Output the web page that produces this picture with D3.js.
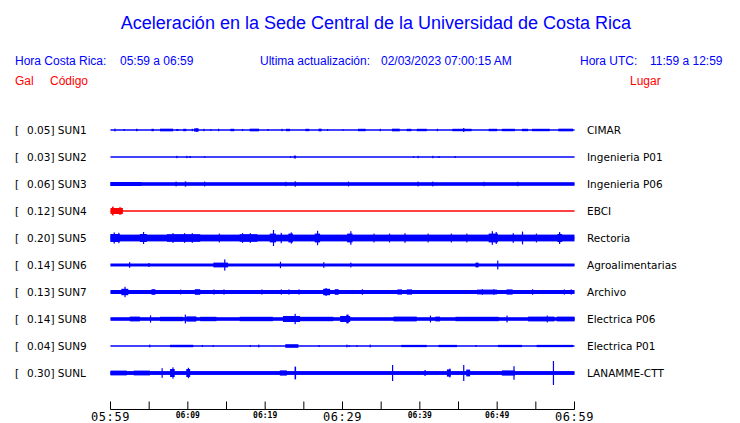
<!DOCTYPE html>
<html>
<head>
<meta charset="utf-8">
<script src="https://cdn.jsdelivr.net/npm/d3@7"></script>
<style>
  body { margin: 0; background: #fff; }
  svg { display: block; }
  .hdr { font-family: "Liberation Sans", Arial, sans-serif; font-size: 12px; }
  .lbl { font-family: "DejaVu Sans", sans-serif; font-size: 10.5px; fill: #000; }
</style>
</head>
<body>
<svg id="chart" width="740" height="423"></svg>
<script>
// station info
var stations = ["SUN1", "SUN2", "SUN3", "SUN4", "SUN5", "SUN6", "SUN7", "SUN8", "SUN9", "SUNL"];
var peakGal = [0.05, 0.03, 0.06, 0.12, 0.20, 0.14, 0.13, 0.14, 0.04, 0.30];
var places = ["CIMAR", "Ingenieria P01", "Ingenieria P06", "EBCI", "Rectoria",
              "Agroalimentarias", "Archivo", "Electrica P06", "Electrica P01", "LANAMME-CTT"];
var traceColor = ["blue", "blue", "blue", "red", "blue", "blue", "blue", "blue", "blue", "blue"];

// background noise half-amplitude (Gal) per station
var baseGal = [0.012, 0.012, 0.045, 0.012, 0.085, 0.037, 0.05, 0.045, 0.012, 0.048];

// bursts: [start minute, end minute, half-amplitude Gal], minutes after 05:59
var bursts = [
  [[0.5,0.5,0.035],[1.7,1.7,0.025],[3.3,3.5,0.03],[5.3,5.6,0.03],[6.4,8.1,0.033],[8.5,8.8,0.025],
   [9.4,9.8,0.03],[10.5,10.5,0.03],[10.8,11.4,0.04],[11.1,11.1,0.05],[12,12,0.03],[12.9,12.9,0.025],
   [13.9,13.9,0.03],[15.5,16,0.03],[17,17,0.025],[18,19.2,0.033],[20.3,20.3,0.025],[22.1,22.1,0.03],
   [22.7,23.2,0.03],[25.2,25.7,0.03],[26.9,27.3,0.033],[28,28,0.025],[30,30,0.02],[32,33,0.03],
   [34.8,34.8,0.03],[36.4,37.4,0.033],[38.3,38.9,0.03],[39.6,40.9,0.03],[42.2,42.2,0.03],
   [44.2,46.7,0.03],[45.6,45.6,0.05],[48.9,50,0.03],[50.6,52.3,0.03],[53.2,54,0.03],[54.5,56.8,0.03],
   [57.9,59.8,0.033]],
  [[8.5,8.6,0.03],[9.8,9.9,0.03],[10.2,10.4,0.025],[12.1,12.1,0.02],[23.2,23.2,0.02],[23.7,24,0.035],
   [39.1,39.1,0.02],[39.7,39.7,0.03],[41.6,41.6,0.03],[42.4,42.4,0.025],[44.5,44.5,0.025]],
  [[0,4,0.05],[8.4,8.4,0.06],[9.6,9.8,0.065],[12.1,12.1,0.06],[22.6,22.6,0.055],[23.8,24,0.065],
   [30.7,30.7,0.06],[39.7,39.7,0.06],[41.6,41.6,0.06],[48.2,48.2,0.055],[52.6,52.6,0.055]],
  [[0,1.6,0.075],[0.2,0.4,0.11],[1.1,1.4,0.09]],
  [[0,1.2,0.1],[0.4,0.4,0.14],[1,1,0.13],[3.8,4.7,0.1],[4.2,4.2,0.15],[8,8,0.12],[9.5,9.5,0.12],
   [10.5,10.5,0.12],[7.3,11.6,0.095],[14,14,0.11],[17,17,0.12],[18,18,0.12],[16.7,19,0.095],
   [20.6,21.4,0.11],[21,21,0.2],[22,22,0.13],[23,23.6,0.11],[23.3,23.3,0.14],[26.4,27.1,0.11],
   [26.7,26.7,0.18],[31,31,0.17],[30.6,31.3,0.11],[34,34,0.11],[36,36,0.11],[38,38,0.12],[41,41,0.11],
   [44,44,0.11],[46,46,0.11],[48.9,50.1,0.11],[49.3,49.3,0.17],[49.8,49.8,0.15],[52,52,0.12],
   [53.2,53.2,0.16],[55,55,0.11],[58,58,0.15],[57.8,58.4,0.1]],
  [[2.4,2.4,0.07],[4.9,4.9,0.05],[13.3,15.2,0.06],[14.7,14.8,0.14],[21.9,21.9,0.08],[27.5,27.5,0.07],
   [31,31,0.06],[47.2,47.6,0.06],[50,50,0.11]],
  [[1.4,2.3,0.08],[1.8,1.9,0.13],[5.3,5.8,0.07],[9,9,0.06],[10.9,11.6,0.07],[13.3,13.3,0.065],
   [14.6,14.6,0.065],[19.5,19.5,0.065],[22,22,0.065],[23,23,0.065],[24.3,24.3,0.065],[27.5,28.4,0.08],
   [27.8,27.9,0.1],[29,29.5,0.07],[32.5,32.5,0.07],[37.1,37.7,0.065],[38.3,39,0.065],[47.4,50,0.06],
   [48,48,0.07],[49.5,49.5,0.07],[51.2,52,0.065],[54.5,54.5,0.07],[58.6,58.6,0.065],[59.5,59.5,0.065]],
  [[2.5,3.8,0.06],[5.1,5.1,0.09],[6.4,9.4,0.055],[9.6,9.6,0.11],[9.8,11.1,0.065],[11.6,13.7,0.055],
   [16.7,21,0.055],[22.3,24.5,0.075],[23.8,23.9,0.13],[24.5,28.8,0.055],[29.7,31,0.075],[30.5,30.8,0.11],
   [36.6,39.6,0.06],[41.3,41.3,0.085],[42,42.6,0.06],[44.6,50.2,0.055],[51.2,51.2,0.085],
   [54,57.4,0.06],[56.4,56.4,0.085],[57.7,60,0.06]],
  [[5,5,0.035],[7.7,10.7,0.03],[11.8,11.8,0.025],[13.2,13.2,0.025],[18,18,0.025],[19.1,19.1,0.035],
   [22.6,24.3,0.045],[26.9,26.9,0.025],[30.5,30.5,0.035],[30.8,30.8,0.025],[31.8,31.8,0.025],
   [33.5,33.5,0.035],[37.6,40.9,0.028],[42.4,44.8,0.028],[47.2,47.2,0.025],[50.1,53.2,0.028],
   [55.1,59.8,0.028]],
  [[0,2.1,0.06],[3,5.1,0.06],[6.6,6.6,0.12],[7.7,8.3,0.1],[8,8,0.14],[9.8,10.3,0.1],[10,10,0.13],
   [21.9,22.8,0.065],[23.8,24,0.16],[36.4,36.4,0.2],[40.6,40.6,0.075],[43.5,44,0.09],[43.8,43.8,0.11],
   [45.6,45.6,0.2],[46,46.5,0.085],[50.6,52.3,0.065],[52.1,52.1,0.17],[57.2,57.2,0.3]]
];

// axis ticks (minutes after 05:59)
var tickMinutes = [0, 5, 10, 15, 20, 25, 30, 35, 40, 45, 50, 55, 60];
var bigLabels = {0: "05:59", 30: "06:29", 60: "06:59"};
var smallLabels = {10: "06:09", 20: "06:19", 40: "06:39", 50: "06:49"};

var svg = d3.select("#chart");

var x = d3.scaleLinear().domain([0, 60]).range([110.5, 574.5]);
var row = d3.scalePoint().domain(stations).range([130, 373]);
var amp = d3.scaleLinear().domain([0, 1]).range([0, 40]); // px per Gal

// title and header
svg.append("text")
    .attr("x", 376).attr("y", 28.5)
    .attr("text-anchor", "middle")
    .attr("fill", "blue")
    .style("font-family", "Liberation Sans, Arial, sans-serif")
    .style("font-size", "18px")
    .text("Aceleración en la Sede Central de la Universidad de Costa Rica");

var hdr = [
  [15, 65, "blue", "Hora Costa Rica:"],
  [120, 65, "blue", "05:59 a 06:59"],
  [260, 65, "blue", "Ultima actualización:"],
  [381, 65, "blue", "02/03/2023 07:00:15 AM"],
  [580, 65, "blue", "Hora UTC:"],
  [650, 65, "blue", "11:59 a 12:59"],
  [15, 85, "red", "Gal"],
  [50, 85, "red", "Código"],
  [630, 85, "red", "Lugar"]
];
svg.selectAll(".hdr").data(hdr).enter().append("text")
    .attr("class", "hdr")
    .attr("x", function(d) { return d[0]; })
    .attr("y", function(d) { return d[1]; })
    .attr("fill", function(d) { return d[2]; })
    .text(function(d) { return d[3]; });

// one group per trace
var tr = svg.selectAll(".trace")
    .data(stations)
    .enter().append("g")
    .attr("class", "trace")
    .attr("transform", function(d) { return "translate(0," + row(d) + ")"; });

tr.append("text").attr("class", "lbl")
    .attr("x", 15).attr("dy", "0.35em").text("[");
tr.append("text").attr("class", "lbl")
    .attr("x", 27).attr("dy", "0.35em")
    .text(function(d, i) { return peakGal[i].toFixed(2) + "] " + d; });
tr.append("text").attr("class", "lbl")
    .attr("x", 587).attr("dy", "0.35em")
    .text(function(d, i) { return places[i]; });

tr.append("line")
    .attr("x1", x(0)).attr("x2", x(60))
    .attr("stroke", function(d, i) { return traceColor[i]; })
    .attr("stroke-width", 1);

tr.append("rect")
    .attr("x", x(0))
    .attr("width", x(60) - x(0))
    .attr("y", function(d, i) { return -amp(baseGal[i]); })
    .attr("height", function(d, i) { return 2 * amp(baseGal[i]); })
    .attr("fill", function(d, i) { return traceColor[i]; });

tr.each(function(d, i) {
    d3.select(this).selectAll(".burst")
        .data(bursts[i])
        .enter().append("rect")
        .attr("class", "burst")
        .attr("x", function(b) { return x(b[0]); })
        .attr("width", function(b) { return Math.max(1.2, x(b[1]) - x(b[0])); })
        .attr("y", function(b) { return -amp(b[2]); })
        .attr("height", function(b) { return 2 * amp(b[2]); })
        .attr("fill", traceColor[i]);
});

// time axis
var ax = svg.append("g").attr("transform", "translate(0,409.5)");
ax.append("line").attr("x1", x(0)).attr("x2", x(60)).attr("stroke", "#000");
ax.selectAll(".tk").data(tickMinutes).enter().append("line")
    .attr("x1", function(d) { return x(d); })
    .attr("x2", function(d) { return x(d); })
    .attr("y1", -8).attr("y2", 0)
    .attr("stroke", "#000");
ax.selectAll(".big").data(Object.keys(bigLabels)).enter().append("text")
    .attr("x", function(d) { return x(+d); })
    .attr("y", 11.5)
    .attr("text-anchor", "middle")
    .style("font-family", "DejaVu Sans Mono, monospace")
    .style("font-size", "12px")
    .style("letter-spacing", "0.6px")
    .text(function(d) { return bigLabels[d]; });
ax.selectAll(".small").data(Object.keys(smallLabels)).enter().append("text")
    .attr("x", function(d) { return x(+d); })
    .attr("y", 8.5)
    .attr("text-anchor", "middle")
    .style("font-family", "DejaVu Sans Mono, monospace")
    .style("font-size", "8px")
    .style("font-weight", "bold")
    .text(function(d) { return smallLabels[d]; });
</script>
</body>
</html>
